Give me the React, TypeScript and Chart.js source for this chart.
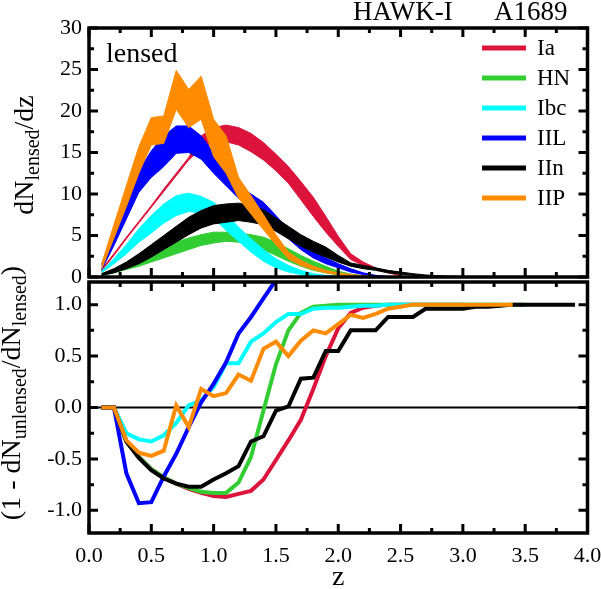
import React, { useEffect, useRef } from 'react';
import { Chart, registerables } from 'chart.js';

Chart.register(...registerables);

const SERIF = '"Liberation Serif", "Times New Roman", serif';

// redshift grid shared by every series
const zGrid = [
  0.1, 0.2, 0.3, 0.4, 0.5, 0.6, 0.7, 0.8, 0.9, 1.0,
  1.1, 1.2, 1.3, 1.4, 1.5, 1.6, 1.7, 1.8, 1.9, 2.0,
  2.1, 2.2, 2.3, 2.4, 2.5, 2.6, 2.7, 2.8, 2.9, 3.0,
  3.1, 3.2, 3.3, 3.4, 3.5, 3.6, 3.7, 3.8, 3.9,
];

const typeNames = ['Ia', 'HN', 'Ibc', 'IIL', 'IIn', 'IIP'];
const typeColors = ['#DC143C', '#32CD32', '#00FFFF', '#0000FF', '#000000', '#FF8C00'];

// lensed dN/dz bands (upper and lower edge)
const iaHigh = [0.9, 2.8, 4.8, 6.7, 8.6, 10.6, 12.5, 14.4, 17.0, 18.0, 18.3, 18.0, 17.3, 16.2, 14.8, 13.3, 11.5, 9.6, 7.3, 4.9, 2.8, 1.8, 1.1, 0.6, 0.2];
const iaLow = [0.7, 2.6, 4.6, 6.5, 8.4, 10.3, 12.2, 14.1, 15.5, 16.3, 16.3, 15.9, 15.1, 14.1, 12.8, 11.3, 9.3, 7.3, 5.4, 3.7, 2.1, 1.4, 0.9, 0.5, 0.15];
const hnHigh = [0.3, 0.9, 1.5, 2.2, 2.9, 3.5, 4.2, 4.7, 5.1, 5.4, 5.4, 5.3, 5.1, 4.8, 4.2, 3.4, 2.6, 1.9, 1.3, 0.7, 0.35, 0.15, 0.05];
const hnLow = [0.15, 0.5, 0.9, 1.3, 1.8, 2.3, 2.8, 3.3, 3.8, 4.1, 4.3, 4.2, 3.9, 3.3, 2.6, 1.9, 1.3, 0.8, 0.5, 0.25, 0.1, 0.05, 0];
const ibcHigh = [0.7, 2.2, 3.9, 5.8, 7.4, 8.8, 9.8, 10.1, 9.7, 9.0, 7.6, 6.0, 4.6, 3.3, 2.2, 1.4, 0.8, 0.4, 0.2, 0.1];
const ibcLow = [0.5, 1.6, 2.8, 4.2, 5.3, 6.5, 7.4, 7.9, 7.7, 7.1, 5.6, 4.3, 3.0, 1.9, 1.1, 0.6, 0.3, 0.1, 0.05, 0];
const iilHigh = [1.5, 5.2, 9.2, 12.8, 15.2, 17.0, 18.2, 18.2, 17.0, 15.0, 12.5, 11.0, 10.0, 9.0, 7.4, 5.7, 4.2, 3.1, 2.3, 1.6, 1.0, 0.5, 0.2, 0.05];
const iilLow = [0.8, 3.8, 7.0, 10.2, 12.0, 13.3, 14.9, 15.0, 14.2, 12.5, 11.0, 9.5, 8.5, 7.7, 6.2, 4.6, 3.3, 2.3, 1.6, 1.1, 0.6, 0.3, 0.1, 0];
const iinHigh = [0.4, 1.0, 1.8, 2.8, 3.9, 5.0, 6.1, 7.2, 8.0, 8.6, 8.8, 8.9, 8.6, 8.1, 7.1, 6.1, 5.1, 4.3, 3.6, 2.6, 1.7, 1.4, 1.1, 0.8, 0.6, 0.4, 0.25, 0.15, 0.1, 0.05];
const iinLow = [0.2, 0.5, 1.0, 1.6, 2.4, 3.3, 4.2, 5.1, 5.9, 6.4, 6.6, 6.8, 6.6, 6.3, 5.5, 4.6, 3.7, 3.0, 2.4, 1.8, 1.3, 1.0, 0.8, 0.5, 0.35, 0.2, 0.1, 0.05, 0.02, 0];
const iipHigh = [1.5, 6.3, 11.0, 15.7, 19.2, 19.4, 24.9, 22.6, 24.2, 19.0, 17.0, 12.0, 9.8, 7.5, 5.1, 3.0, 2.0, 1.3, 0.8, 0.5, 0.3, 0.15, 0.05];
const iipLow = [0.9, 4.7, 8.5, 12.5, 15.9, 16.1, 20.2, 18.0, 19.0, 14.5, 12.5, 9.5, 7.6, 5.7, 3.9, 2.2, 1.4, 0.9, 0.5, 0.3, 0.15, 0.05, 0];

// 1 - dN_unlensed / dN_lensed
const iaRatio = [0, 0, -0.33, -0.48, -0.60, -0.68, -0.74, -0.79, -0.83, -0.86, -0.87, -0.84, -0.81, -0.70, -0.51, -0.32, -0.12, 0.18, 0.5, 0.77, 0.92, 0.97, 0.99, 1.0, 1.0, 1.0, 1.0, 1.0, 1.0, 1.0];
const hnRatio = [0, 0, -0.33, -0.48, -0.60, -0.68, -0.74, -0.78, -0.82, -0.83, -0.83, -0.73, -0.48, -0.03, 0.42, 0.75, 0.92, 0.98, 0.99, 1.0, 1.0, 1.0, 1.0, 1.0, 1.0, 1.0, 1.0, 1.0, 1.0, 1.0, 1.0, 1.0, 1.0, 1.0, 1.0];
const ibcRatio = [0, 0, -0.25, -0.31, -0.33, -0.27, -0.15, 0.02, 0.07, 0.2, 0.43, 0.43, 0.64, 0.72, 0.83, 0.91, 0.91, 0.96, 0.97, 0.97, 0.98, 0.99, 0.99, 1.0, 1.0, 1.0, 1.0, 1.0, 1.0, 1.0, 1.0, 1.0, 1.0];
const iilRatio = [0, 0, -0.64, -0.93, -0.92, -0.67, -0.45, -0.19, 0.05, 0.23, 0.44, 0.72, 0.88, 1.06, 1.24];
const iinRatio = [0, 0, -0.33, -0.49, -0.61, -0.69, -0.74, -0.77, -0.77, -0.70, -0.64, -0.57, -0.33, -0.28, -0.03, 0.01, 0.28, 0.29, 0.55, 0.55, 0.75, 0.75, 0.75, 0.88, 0.88, 0.88, 0.96, 0.96, 0.96, 0.96, 0.98, 0.98, 0.99, 1.0, 1.0, 1.0, 1.0, 1.0, 1.0];
const iipRatio = [0, 0, -0.32, -0.44, -0.47, -0.42, 0.02, -0.19, 0.18, 0.11, 0.14, 0.32, 0.26, 0.57, 0.64, 0.50, 0.65, 0.75, 0.72, 0.81, 0.9, 0.87, 0.91, 0.96, 0.98, 1.0, 1.0, 1.0, 1.0, 1.0, 1.0, 1.0, 1.0, 1.0];

const bandHigh = [iaHigh, hnHigh, ibcHigh, iilHigh, iinHigh, iipHigh];
const bandLow = [iaLow, hnLow, ibcLow, iilLow, iinLow, iipLow];
const ratios = [iaRatio, hnRatio, ibcRatio, iilRatio, iinRatio, iipRatio];

const toPoints = (values: number[]) => values.map((v, i) => ({ x: zGrid[i], y: v }));

// rotated axis title with subscripts, centred on cy
function drawRotTitle(ctx: CanvasRenderingContext2D, bx: number, cy: number, parts: [string, boolean][]) {
  const big = `28px ${SERIF}`;
  const small = `20px ${SERIF}`;
  let total = 0;
  parts.forEach(([t, sub]) => {
    ctx.font = sub ? small : big;
    total += ctx.measureText(t).width;
  });
  ctx.save();
  ctx.translate(bx, cy);
  ctx.rotate(-Math.PI / 2);
  ctx.fillStyle = '#000';
  ctx.textBaseline = 'alphabetic';
  let x = -total / 2;
  parts.forEach(([t, sub]) => {
    ctx.font = sub ? small : big;
    ctx.fillText(t, x, sub ? 6 : 0);
    x += ctx.measureText(t).width;
  });
  ctx.restore();
}

// boxed frame with inward major/minor ticks on all sides
const makeFrame = (yMinor: number, yMajor: number, zeroLine: boolean) => ({
  id: 'frame',
  beforeDatasetsDraw(chart: any) {
    if (!zeroLine) return;
    const { ctx, chartArea: a, scales } = chart;
    const py = scales.y.getPixelForValue(0);
    ctx.save();
    ctx.strokeStyle = '#000';
    ctx.lineWidth = 2;
    ctx.beginPath();
    ctx.moveTo(a.left, py);
    ctx.lineTo(a.right, py);
    ctx.stroke();
    ctx.restore();
  },
  afterDatasetsDraw(chart: any) {
    const { ctx, chartArea: a, scales } = chart;
    const xs = scales.x;
    const ys = scales.y;
    ctx.save();
    ctx.strokeStyle = '#000';
    ctx.lineWidth = 3;
    ctx.beginPath();
    for (let i = 0; i <= 16; i++) {
      const v = i * 0.25;
      const len = i % 2 === 0 ? 9 : 5;
      const px = xs.getPixelForValue(v);
      ctx.moveTo(px, a.bottom);
      ctx.lineTo(px, a.bottom - len);
      ctx.moveTo(px, a.top);
      ctx.lineTo(px, a.top + len);
    }
    const start = Math.ceil(ys.min / yMinor - 1e-6);
    const end = Math.floor(ys.max / yMinor + 1e-6);
    for (let k = start; k <= end; k++) {
      const v = k * yMinor;
      const major = Math.abs(v / yMajor - Math.round(v / yMajor)) < 1e-6;
      const len = major ? 9 : 5;
      const py = ys.getPixelForValue(v);
      ctx.moveTo(a.left, py);
      ctx.lineTo(a.left + len, py);
      ctx.moveTo(a.right, py);
      ctx.lineTo(a.right - len, py);
    }
    ctx.stroke();
    ctx.lineWidth = 3.5;
    ctx.strokeRect(a.left, a.top, a.right - a.left, a.bottom - a.top);
    ctx.restore();
  },
});

const topText = {
  id: 'topText',
  afterDraw(chart: any) {
    const { ctx } = chart;
    ctx.save();
    ctx.fillStyle = '#000';
    ctx.textBaseline = 'alphabetic';
    ctx.font = `27px ${SERIF}`;
    ctx.fillText('HAWK-I', 353, 20);
    ctx.fillText('A1689', 494, 20);
    ctx.font = `28px ${SERIF}`;
    ctx.fillText('lensed', 106, 62);
    // legend
    typeNames.forEach((name, i) => {
      const y = 48 + 30 * i;
      ctx.strokeStyle = typeColors[i];
      ctx.lineWidth = 5;
      ctx.beginPath();
      ctx.moveTo(482, y);
      ctx.lineTo(526, y);
      ctx.stroke();
      ctx.font = `23px ${SERIF}`;
      ctx.textBaseline = 'middle';
      ctx.fillText(name, 537, y + 1);
    });
    ctx.restore();
    drawRotTitle(ctx, 33, 155, [['dN', false], ['lensed', true], ['/dz', false]]);
  },
};

const bottomText = {
  id: 'bottomText',
  afterDraw(chart: any) {
    const { ctx, chartArea: a } = chart;
    ctx.save();
    ctx.fillStyle = '#000';
    ctx.font = `28px ${SERIF}`;
    ctx.textAlign = 'center';
    ctx.textBaseline = 'alphabetic';
    ctx.fillText('z', (a.left + a.right) / 2, 330);
    ctx.restore();
    drawRotTitle(ctx, 20, 138, [
      ['(1 - dN', false],
      ['unlensed', true],
      ['/dN', false],
      ['lensed', true],
      [')', false],
    ]);
  },
};

const tickFont = { family: SERIF, size: 22 };

const App: React.FC = () => {
  const topRef = useRef<HTMLCanvasElement>(null);
  const bottomRef = useRef<HTMLCanvasElement>(null);

  useEffect(() => {
    if (!topRef.current || !bottomRef.current) return;

    const bandSets: any[] = [];
    typeNames.forEach((name, b) => {
      bandSets.push({
        label: `${name} low`,
        data: toPoints(bandLow[b]),
        borderColor: typeColors[b],
        borderWidth: 1,
        pointRadius: 0,
        fill: false,
        order: (6 - b) * 2,
      });
      bandSets.push({
        label: name,
        data: toPoints(bandHigh[b]),
        borderColor: typeColors[b],
        backgroundColor: typeColors[b],
        borderWidth: 1,
        pointRadius: 0,
        fill: '-1',
        order: (6 - b) * 2,
      });
    });

    const topChart = new Chart(topRef.current, {
      type: 'line',
      data: { datasets: bandSets },
      options: {
        responsive: false,
        animation: false,
        layout: { padding: { left: 0, top: 28, right: 13.5, bottom: 23 } },
        plugins: { legend: { display: false }, tooltip: { enabled: false } },
        scales: {
          x: { type: 'linear', min: 0, max: 4, display: false },
          y: {
            min: 0,
            max: 30,
            grid: { display: false, drawTicks: false },
            border: { display: false },
            ticks: { stepSize: 5, font: tickFont, color: '#000', padding: 7 },
            afterFit: (s: any) => {
              s.width = 89;
              s.paddingTop = 0;
              s.paddingBottom = 0;
            },
          },
        },
      },
      plugins: [makeFrame(2.5, 5, false), topText],
    });

    const lineSets = typeNames.map((name, b) => ({
      label: name,
      data: toPoints(ratios[b]),
      borderColor: typeColors[b],
      borderWidth: 4,
      pointRadius: 0,
      fill: false,
      order: 6 - b,
    }));

    const bottomChart = new Chart(bottomRef.current, {
      type: 'line',
      data: { datasets: lineSets },
      options: {
        responsive: false,
        animation: false,
        layout: { padding: { left: 0, top: 27, right: 13.5, bottom: 0 } },
        plugins: { legend: { display: false }, tooltip: { enabled: false } },
        scales: {
          x: {
            type: 'linear',
            min: 0,
            max: 4,
            grid: { display: false, drawTicks: false },
            border: { display: false },
            ticks: {
              stepSize: 0.5,
              font: tickFont,
              color: '#000',
              padding: 10,
              maxRotation: 0,
              autoSkip: false,
              callback: (v: any) => Number(v).toFixed(1),
            },
            afterFit: (s: any) => {
              s.height = 56;
              s.paddingLeft = 0;
              s.paddingRight = 0;
            },
          },
          y: {
            min: -1.22,
            max: 1.22,
            grid: { display: false, drawTicks: false },
            border: { display: false },
            ticks: {
              stepSize: 0.5,
              includeBounds: false,
              font: tickFont,
              color: '#000',
              padding: 7,
              callback: (v: any) => Number(v).toFixed(1),
            },
            afterFit: (s: any) => {
              s.width = 89;
              s.paddingTop = 0;
              s.paddingBottom = 0;
            },
          },
        },
      },
      plugins: [makeFrame(0.25, 0.5, true), bottomText],
    });

    return () => {
      topChart.destroy();
      bottomChart.destroy();
    };
  }, []);

  return (
    <div style={{ position: 'absolute', left: 0, top: 0, width: 601, height: 589, background: '#fff' }}>
      <canvas ref={topRef} width={601} height={300} style={{ position: 'absolute', left: 0, top: 0 }} />
      <canvas ref={bottomRef} width={601} height={334} style={{ position: 'absolute', left: 0, top: 255 }} />
    </div>
  );
};

export default App;
